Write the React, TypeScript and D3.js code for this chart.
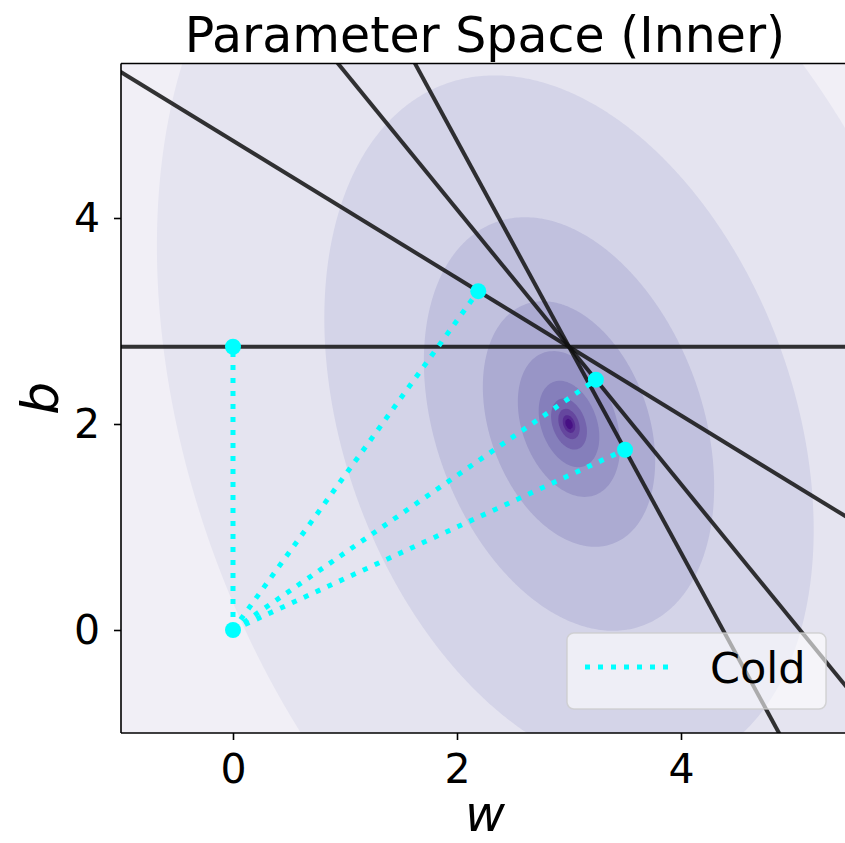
import React, { useEffect, useRef } from 'react'
import * as d3 from 'd3'

const W = 845
const H = 843
const plot = { left: 121, right: 849, top: 63.5, bottom: 733 }

const xDomain = [-1, 5.5]
const yDomain = [-1, 5.5]
const xTicks = [0, 2, 4]
const yTicks = [0, 2, 4]

// one line per inner data point: b = y_i - x_i * w
const pointX = [0, 2 / 3, 4 / 3, 2]
const pointY = [2.75, 4.75, 6.75, 8.75]

// cold start: from the origin to each line
const startW = 0
const startB = 0
const coldW = [0, 2.19, 3.24, 3.5]
const coldB = [2.75, 3.29, 2.43, 1.75]

// loss surface around the optimum
const optW = 3
const optB = 2
const lossA = 2.4 // w^2
const lossC = 0.47 // w*b
const lossD = 1.0 // b^2
const levels = [29.5, 10.4, 3.66, 1.29, 0.455, 0.16, 0.056, 0.02, 0.007, 0.0025]

function App() {
  const svgRef = useRef(null)

  useEffect(() => {
    const svg = d3.select(svgRef.current)
    svg.selectAll('*').remove()

    const x = d3.scaleLinear().domain(xDomain).range([plot.left, plot.right])
    const y = d3.scaleLinear().domain(yDomain).range([plot.bottom, plot.top])

    svg.append('rect').attr('width', W).attr('height', H).attr('fill', 'white')

    svg.append('clipPath').attr('id', 'clip')
      .append('rect')
      .attr('x', plot.left).attr('y', plot.top)
      .attr('width', plot.right - plot.left).attr('height', plot.bottom - plot.top)

    const g = svg.append('g').attr('clip-path', 'url(#clip)')

    // filled contours
    const nx = 360, ny = 360
    const gx0 = -1.5, gx1 = 6, gy0 = -1.5, gy1 = 6
    const dx = (gx1 - gx0) / (nx - 1), dy = (gy1 - gy0) / (ny - 1)
    const values = new Array(nx * ny)
    for (let j = 0; j < ny; j++) {
      for (let i = 0; i < nx; i++) {
        const dw = gx0 + i * dx - optW
        const db = gy0 + j * dy - optB
        values[j * nx + i] = -(lossA * dw * dw + 2 * lossC * dw * db + lossD * db * db)
      }
    }
    const contours = d3.contours().size([nx, ny]).thresholds(levels.map(l => -l))(values)
    const proj = d3.geoTransform({
      point: function (px, py) {
        this.stream.point(x(gx0 + (px - 0.5) * dx), y(gy0 + (py - 0.5) * dy))
      }
    })
    const path = d3.geoPath(proj)
    const bandColor = (k) => d3.interpolatePurples(0.1 + 0.085 * k)

    g.append('rect')
      .attr('x', plot.left).attr('y', plot.top)
      .attr('width', plot.right - plot.left).attr('height', plot.bottom - plot.top)
      .attr('fill', bandColor(0))

    g.selectAll('path.band')
      .data(contours)
      .join('path')
      .attr('class', 'band')
      .attr('d', path)
      .attr('fill', (d, k) => bandColor(k + 1))

    // parameter-space lines
    pointX.forEach((xi, k) => {
      g.append('line')
        .attr('x1', x(xDomain[0] - 0.5)).attr('y1', y(pointY[k] - xi * (xDomain[0] - 0.5)))
        .attr('x2', x(xDomain[1] + 0.5)).attr('y2', y(pointY[k] - xi * (xDomain[1] + 0.5)))
        .attr('stroke', '#111')
        .attr('stroke-opacity', 0.85)
        .attr('stroke-width', 4)
    })

    // cold start paths
    coldW.forEach((w, k) => {
      g.append('line')
        .attr('x1', x(startW)).attr('y1', y(startB))
        .attr('x2', x(w)).attr('y2', y(coldB[k]))
        .attr('stroke', 'cyan')
        .attr('stroke-width', 5)
        .attr('stroke-dasharray', '5,8')
    })
    const pts = [[startW, startB]].concat(coldW.map((w, k) => [w, coldB[k]]))
    g.selectAll('circle')
      .data(pts)
      .join('circle')
      .attr('cx', d => x(d[0])).attr('cy', d => y(d[1]))
      .attr('r', 8)
      .attr('fill', 'cyan')

    // spines
    const spine = svg.append('g').attr('stroke', 'black').attr('stroke-width', 1.6)
    spine.append('line').attr('x1', plot.left).attr('x2', plot.left).attr('y1', plot.top).attr('y2', plot.bottom)
    spine.append('line').attr('x1', plot.left).attr('x2', plot.right).attr('y1', plot.bottom).attr('y2', plot.bottom)
    spine.append('line').attr('x1', plot.left).attr('x2', plot.right).attr('y1', plot.top).attr('y2', plot.top)

    // axes
    const font = 'DejaVu Sans, sans-serif'
    const xAxis = svg.append('g')
      .attr('transform', `translate(0,${plot.bottom})`)
      .call(d3.axisBottom(x).tickValues(xTicks).tickSize(7).tickPadding(14).tickFormat(d3.format('d')))
    xAxis.select('.domain').remove()
    xAxis.selectAll('line').attr('stroke-width', 1.6)
    xAxis.selectAll('text').attr('font-size', 41).attr('font-family', font).attr('fill', 'black')

    const yAxis = svg.append('g')
      .attr('transform', `translate(${plot.left},0)`)
      .call(d3.axisLeft(y).tickValues(yTicks).tickSize(7).tickPadding(14).tickFormat(d3.format('d')))
    yAxis.select('.domain').remove()
    yAxis.selectAll('line').attr('stroke-width', 1.6)
    yAxis.selectAll('text').attr('font-size', 41).attr('font-family', font).attr('fill', 'black')

    // labels
    svg.append('text')
      .attr('x', (plot.left + plot.right) / 2).attr('y', 52)
      .attr('text-anchor', 'middle')
      .attr('font-family', font).attr('font-size', 49)
      .text('Parameter Space (Inner)')
    svg.append('text')
      .attr('x', (plot.left + plot.right) / 2).attr('y', 831)
      .attr('text-anchor', 'middle')
      .attr('font-family', font).attr('font-size', 49).attr('font-style', 'italic')
      .text('w')
    svg.append('text')
      .attr('transform', `translate(58,${(plot.top + plot.bottom) / 2}) rotate(-90)`)
      .attr('text-anchor', 'middle')
      .attr('font-family', font).attr('font-size', 52).attr('font-style', 'italic')
      .text('b')

    // legend
    const lg = svg.append('g')
    lg.append('rect')
      .attr('x', 567).attr('y', 633).attr('width', 259).attr('height', 76)
      .attr('rx', 7)
      .attr('fill', 'white').attr('fill-opacity', 0.6)
      .attr('stroke', '#cccccc').attr('stroke-opacity', 0.8).attr('stroke-width', 1.5)
    lg.append('line')
      .attr('x1', 585).attr('x2', 669).attr('y1', 667).attr('y2', 667)
      .attr('stroke', 'cyan').attr('stroke-width', 5).attr('stroke-dasharray', '5,8')
    lg.append('text')
      .attr('x', 710).attr('y', 683)
      .attr('font-family', font).attr('font-size', 43)
      .text('Cold')
  }, [])

  return (
    <svg ref={svgRef} width={W} height={H} style={{ position: 'absolute', left: 0, top: 0 }}></svg>
  )
}

export default App
